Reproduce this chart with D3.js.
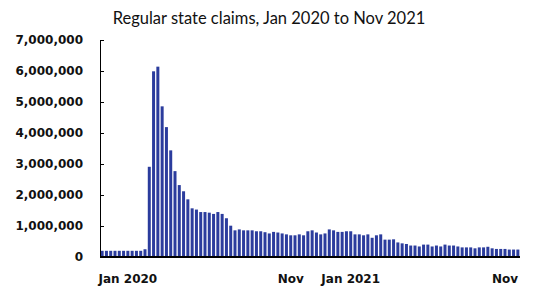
<!DOCTYPE html>
<html>
<head>
<meta charset="utf-8">
<script src="https://cdn.jsdelivr.net/npm/d3@7"></script>
<style>
  body { margin: 0; background: #fff; }
  svg { display: block; }
</style>
</head>
<body>
<svg id="chart" width="548" height="287"></svg>
<script>
// weekly regular state claims, first week of Jan 2020 to Nov 2021
var claims = [
    200000, 200000, 200000, 200000, 200000, 200000, 200000, 200000, 200000, 200000,
    250000, 2910000, 5990000, 6140000, 4860000, 4190000, 3440000, 2770000, 2320000, 2120000,
    1860000, 1570000, 1530000, 1450000, 1450000, 1430000, 1390000, 1450000, 1390000, 1250000,
    1010000, 860000, 890000, 860000, 860000, 860000, 830000, 830000, 800000, 760000,
    810000, 790000, 760000, 730000, 700000, 700000, 730000, 700000, 830000, 860000,
    790000, 730000, 760000, 890000, 860000, 810000, 810000, 830000, 830000, 730000,
    730000, 700000, 730000, 620000, 700000, 730000, 560000, 560000, 570000, 470000,
    440000, 420000, 370000, 370000, 340000, 400000, 400000, 340000, 370000, 340000,
    400000, 370000, 370000, 340000, 310000, 310000, 310000, 280000, 310000, 310000,
    330000, 280000, 260000, 260000, 260000, 240000, 240000, 240000
];
var weeks = d3.range(claims.length);
var xLabels = ["Jan 2020", "Nov", "Jan 2021", "Nov"];
var xLabelWeeks = [6, 44, 58, 94];
var yTicks = [0, 1000000, 2000000, 3000000, 4000000, 5000000, 6000000, 7000000];

var svg = d3.select("#chart");
var plotLeft = 100, plotRight = 520, plotTop = 40, plotBottom = 257;
var barColor = "#2b3c9d";

var x = d3.scaleBand()
    .domain(weeks)
    .range([plotLeft, plotRight])
    .paddingInner(0.3)
    .paddingOuter(0.15);

var y = d3.scaleLinear()
    .domain([0, 7000000])
    .range([plotBottom, plotTop]);

svg.append("text")
    .attr("x", 269)
    .attr("y", 24)
    .attr("text-anchor", "middle")
    .style("font-family", "Lato, 'Open Sans', sans-serif")
    .style("font-size", "16.5px")
    .style("fill", "#111")
    .text("Regular state claims, Jan 2020 to Nov 2021");

svg.append("g").selectAll("rect")
    .data(claims).enter()
    .append("rect")
    .attr("x", function (d, i) { return x(i); })
    .attr("width", x.bandwidth())
    .attr("y", function (d) { return y(d); })
    .attr("height", function (d) { return plotBottom - y(d); })
    .attr("fill", barColor);

var yAxis = svg.append("g")
    .attr("transform", "translate(" + plotLeft + ",0)")
    .call(d3.axisLeft(y)
        .tickValues(yTicks)
        .tickFormat(d3.format(","))
        .tickSizeInner(-4)
        .tickSizeOuter(0)
        .tickPadding(17));
yAxis.select(".domain").attr("stroke", "#000");
yAxis.selectAll(".tick line").attr("stroke", "#000");
yAxis.selectAll("text")
    .style("font-family", "'DejaVu Sans', sans-serif")
    .style("font-weight", "bold")
    .style("font-size", "12px")
    .style("fill", "#111");

// baseline
svg.append("line")
    .attr("x1", plotLeft)
    .attr("x2", plotRight)
    .attr("y1", plotBottom)
    .attr("y2", plotBottom)
    .attr("stroke", "#000")
    .attr("stroke-width", 2);

svg.append("g").selectAll("text")
    .data(xLabels).enter()
    .append("text")
    .attr("x", function (d, i) { return x(xLabelWeeks[i]) + x.bandwidth() / 2; })
    .attr("y", 283)
    .attr("text-anchor", "middle")
    .style("font-family", "'DejaVu Sans', sans-serif")
    .style("font-weight", "bold")
    .style("font-size", "12px")
    .style("fill", "#111")
    .text(function (d) { return d; });
</script>
</body>
</html>
